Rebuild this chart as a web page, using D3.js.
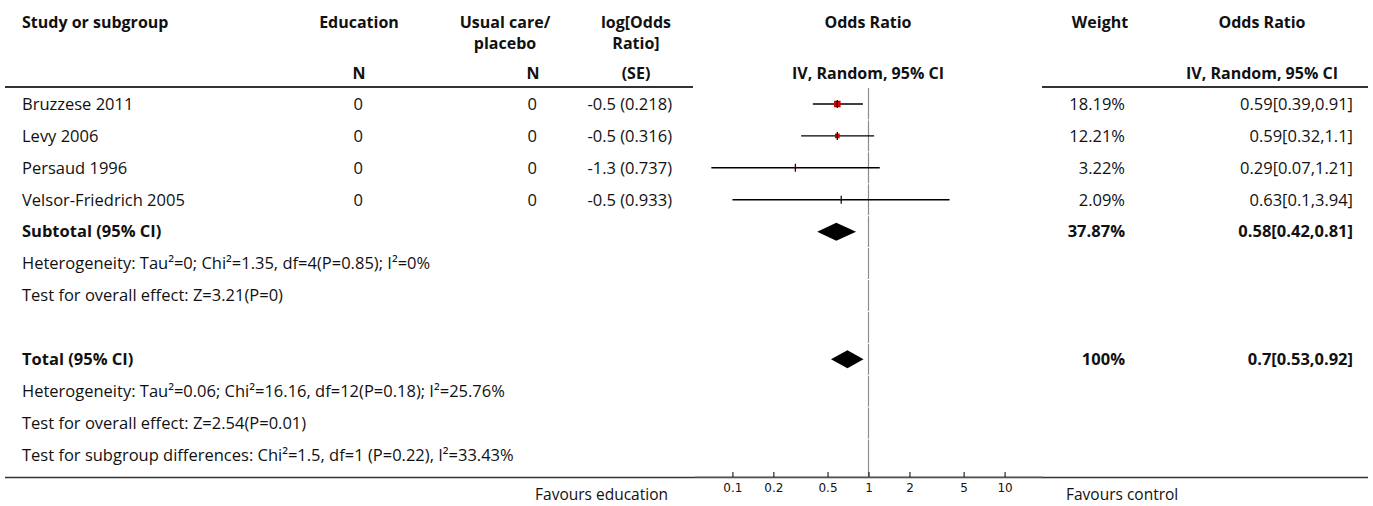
<!DOCTYPE html>
<html><head><meta charset="utf-8">
<script src="https://cdn.jsdelivr.net/npm/d3@7"></script>
<style>
body{margin:0;background:#fff;}
text{font-family:"Open Sans","Noto Sans",sans-serif;fill:#111;}
</style></head>
<body><svg id="c" width="1373" height="506"></svg>
<script>
// ---- data ----
const studies = ["Bruzzese 2011","Levy 2006","Persaud 1996","Velsor-Friedrich 2005"];
const eduN = [0,0,0,0];
const ctlN = [0,0,0,0];
const logOR = [-0.5,-0.5,-1.3,-0.5];
const logSE = [0.218,0.316,0.737,0.933];
const weights = [18.19,12.21,3.22,2.09];
const orVal = [0.59,0.59,0.29,0.63];
const orLo = [0.39,0.32,0.07,0.1];
const orHi = [0.91,1.1,1.21,3.94];
const subtotal = ["Subtotal (95% CI)", 37.87, 0.58, 0.42, 0.81];
const total = ["Total (95% CI)", 100, 0.7, 0.53, 0.92];
const subtotalStats = ["Heterogeneity: Tau²=0; Chi²=1.35, df=4(P=0.85); I²=0%","Test for overall effect: Z=3.21(P=0)"];
const totalStats = ["Heterogeneity: Tau²=0.06; Chi²=16.16, df=12(P=0.18); I²=25.76%","Test for overall effect: Z=2.54(P=0.01)","Test for subgroup differences: Chi²=1.5, df=1 (P=0.22), I²=33.43%"];
const ticks = [0.1,0.2,0.5,1,2,5,10];
const favours = ["Favours education","Favours control"];

// ---- layout ----
const svg = d3.select("#c");
const x = d3.scaleLog().domain([Math.pow(10,-1.275), Math.pow(10,1.275)]).range([695,1042]);
const y = d3.scaleLinear().domain([0,11]).range([104,455]);
const rowH = y(1)-y(0);
const sz = d3.scaleLinear().domain([0,18.19]).range([1,6.5]);
const fs = 16.5;

function txt(xp, yp, s, anchor, bold, size){
  return svg.append("text").attr("x",xp).attr("y",yp).attr("dy","0.35em")
    .attr("text-anchor",anchor||"start").style("font-size",(size||fs)+"px")
    .style("font-weight",bold?"700":"400").text(s);
}

// header
const hb = true, hs = 16;
txt(22,22,"Study or subgroup","start",hb,hs);
txt(359,22,"Education","middle",hb,hs);
txt(505,22,"Usual care/","middle",hb,hs);
txt(505,43,"placebo","middle",hb,hs);
txt(636,22,"log[Odds","middle",hb,hs);
txt(636,43,"Ratio]","middle",hb,hs);
txt(868,22,"Odds Ratio","middle",hb,hs);
txt(1100,22,"Weight","middle",hb,hs);
txt(1262,22,"Odds Ratio","middle",hb,hs);
txt(359,73,"N","middle",hb,hs);
txt(533,73,"N","middle",hb,hs);
txt(636,73,"(SE)","middle",hb,hs);
txt(868,73,"IV, Random, 95% CI","middle",hb,hs);
txt(1262,73,"IV, Random, 95% CI","middle",hb,hs);

// header rules
[[5,693],[1042,1368]].forEach(([a,b])=>{
  svg.append("line").attr("x1",a).attr("x2",b).attr("y1",87).attr("y2",87)
    .attr("stroke","#333").attr("stroke-width",2);
});

// vertical null line, segmented per row
d3.range(12).forEach(i=>{
  const top = i===0 ? 88 : y(i)-rowH/2+0.5;
  const bot = i===11 ? 476 : y(i)+rowH/2-0.5;
  svg.append("line").attr("x1",x(1)).attr("x2",x(1)).attr("y1",top).attr("y2",bot)
    .attr("stroke","#8c8c8c").attr("stroke-width",1.2);
});

// study rows
studies.forEach((s,i)=>{
  const yy = y(i);
  txt(22,yy,s);
  txt(363,yy,eduN[i],"end");
  txt(537,yy,ctlN[i],"end");
  txt(672,yy,logOR[i]+" ("+logSE[i]+")","end");
  txt(1125,yy,weights[i].toFixed(2)+"%","end");
  txt(1353,yy,orVal[i]+"["+orLo[i]+","+orHi[i]+"]","end");
  svg.append("line").attr("x1",x(orLo[i])).attr("x2",x(orHi[i])).attr("y1",yy).attr("y2",yy)
    .attr("stroke","#000").attr("stroke-width",1.4);
  const s2 = sz(weights[i]);
  svg.append("rect").attr("x",x(orVal[i])-s2/2).attr("y",yy-s2/2).attr("width",s2).attr("height",s2)
    .attr("fill","#d00000");
  svg.append("line").attr("x1",x(orVal[i])).attr("x2",x(orVal[i])).attr("y1",yy-4).attr("y2",yy+4)
    .attr("stroke","#000").attr("stroke-width",1.2);
});

function pooled(row, d){
  const yy = y(row);
  txt(22,yy,d[0],"start",true);
  txt(1125,yy,(d[1]===100?"100":d[1].toFixed(2))+"%","end",true);
  txt(1353,yy,d[2]+"["+d[3]+","+d[4]+"]","end",true);
  const pts = [[x(d[3]),yy],[x(d[2]),yy-9],[x(d[4]),yy],[x(d[2]),yy+9]];
  svg.append("path").attr("d","M"+pts.map(p=>p.join(",")).join("L")+"Z").attr("fill","#000");
}
pooled(4, subtotal);
subtotalStats.forEach((s,i)=>txt(22,y(5+i),s));
pooled(8, total);
totalStats.forEach((s,i)=>txt(22,y(9+i),s));

// bottom rule + axis
svg.append("line").attr("x1",5).attr("x2",1368).attr("y1",477.5).attr("y2",477.5)
  .attr("stroke","#333").attr("stroke-width",1.6);
const axis = d3.axisTop(x).tickValues(ticks).tickFormat(d=>String(d)).tickSize(5).tickPadding(0);
const ag = svg.append("g").attr("transform","translate(0,477)").call(axis);
ag.select(".domain").attr("stroke","#777").attr("stroke-width",1.2).attr("d","M695,0H1042");
ag.selectAll(".tick line").attr("stroke","#000");
ag.selectAll(".tick text").attr("y",15).attr("dy","0").style("font-size","12px")
  .style("font-family","'DejaVu Sans',sans-serif").attr("fill","#222");

txt(668,495,favours[0],"end",false,15.5);
txt(1066,495,favours[1],"start",false,15.5);
</script></body></html>
